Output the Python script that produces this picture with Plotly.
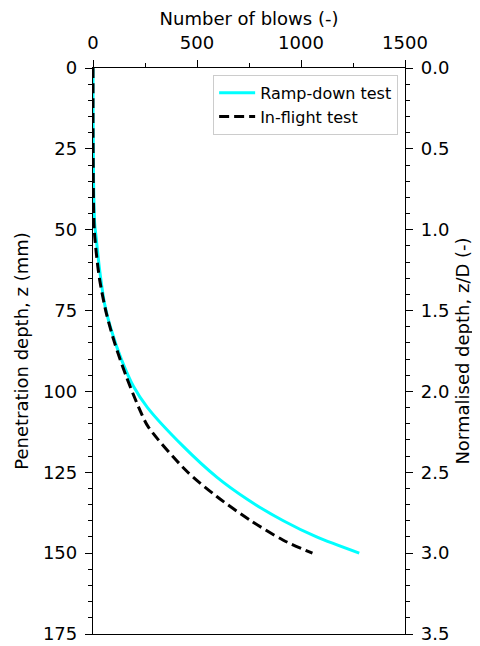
import plotly.graph_objects as go

# Ramp-down test: penetration depth (mm) vs number of blows
depth_ramp = [0, 10, 20, 30, 40, 48, 53, 62.5, 73, 81, 90, 98.5, 105, 117, 126.5, 133.5, 140, 145, 150]
blows_ramp = [0, 0, 1, 2, 4, 8, 16, 32, 56, 88, 136, 195, 262, 434, 595, 745, 915, 1075, 1280]
# In-flight test
depth_flight = [0, 10, 20, 30, 40, 50, 57.3, 65.5, 75.8, 85, 95.4, 105.7, 110.9, 124.3, 132.5, 139.8, 146, 150]
blows_flight = [0, 0, 0, 1, 2, 6, 16, 32, 64, 104, 160, 225, 265, 445, 595, 755, 915, 1055]
D_mm = 50.0

FONT = "DejaVu Sans"
TICK = 18
TITLE = 18

fig = go.Figure()
fig.add_trace(go.Scatter(x=blows_ramp, y=depth_ramp, mode="lines", name="Ramp-down test",
                         line=dict(color="#00FFFF", width=3, shape="spline", smoothing=0.8)))
fig.add_trace(go.Scatter(x=blows_flight, y=depth_flight, mode="lines", name="In-flight test",
                         line=dict(color="black", width=3, dash="10px,5px", shape="spline", smoothing=0.8)))
fig.add_trace(go.Scatter(x=[0, 0], y=[d / D_mm for d in [0, 175]], yaxis="y2", mode="lines",
                         line=dict(width=0), showlegend=False, hoverinfo="skip"))

axis_common = dict(showgrid=False, zeroline=False, showline=True, linecolor="black", linewidth=1.3,
                   ticks="outside", ticklen=7, tickwidth=1.3, tickcolor="black", automargin=False,
                   ticklabelstandoff=4,
                   tickfont=dict(family=FONT, size=TICK, color="black"))

# page body has an 8px margin, so the figure is sized/offset to land on the 480x646 window
fig.update_layout(
    width=472, height=638,
    margin=dict(l=85, r=75, t=60, b=12),
    plot_bgcolor="white", paper_bgcolor="white",
    font=dict(family=FONT, color="black"),
    xaxis=dict(range=[0, 1500], side="top", tickvals=[0, 500, 1000, 1500], mirror=True,
               title=dict(text="Number of blows (-)", font=dict(family=FONT, size=TITLE), standoff=4),
               minor=dict(dtick=250, ticks="outside", ticklen=4, tickwidth=1, tickcolor="black"),
               **axis_common),
    yaxis=dict(range=[175, 0], tickvals=[0, 25, 50, 75, 100, 125, 150, 175],
               title=dict(text="Penetration depth, z (mm)", font=dict(family=FONT, size=TITLE), standoff=9),
               minor=dict(dtick=5, ticks="outside", ticklen=4, tickwidth=1, tickcolor="black"),
               **axis_common),
    yaxis2=dict(range=[3.5, 0], overlaying="y", side="right", anchor="x",
                tickvals=[0, 0.5, 1.0, 1.5, 2.0, 2.5, 3.0, 3.5],
                ticktext=["0.0", "0.5", "1.0", "1.5", "2.0", "2.5", "3.0", "3.5"],
                title=dict(text="Normalised depth, z/D (-)", font=dict(family=FONT, size=TITLE), standoff=8),
                minor=dict(dtick=0.1, ticks="outside", ticklen=4, tickwidth=1, tickcolor="black"),
                **axis_common),
    legend=dict(x=0.978, y=0.988, xanchor="right", yanchor="top",
                bgcolor="rgba(255,255,255,0.85)", bordercolor="#cccccc", borderwidth=1,
                font=dict(family=FONT, size=16, color="black"), tracegroupgap=0,
                itemwidth=36),
    showlegend=True,
)

fig.write_html("out.html")
